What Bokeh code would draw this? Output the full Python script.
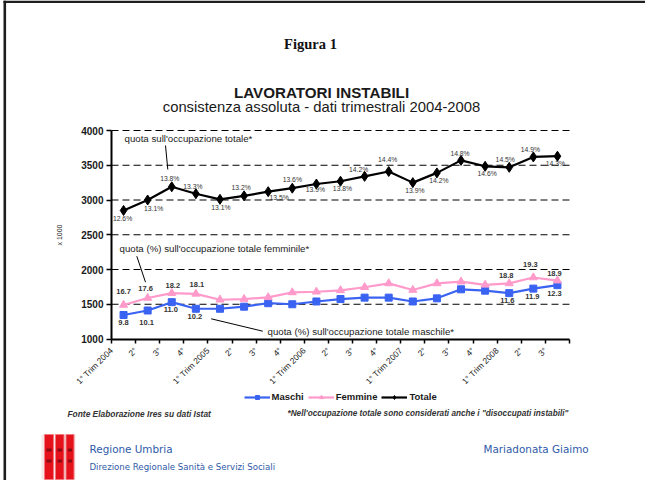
import math
import numpy as np
from bokeh.plotting import figure
from bokeh.models import Range1d, FixedTicker, Legend, LegendItem, ColumnDataSource
from bokeh.core.properties import value
from bokeh.embed import file_html
from bokeh.resources import INLINE

# ---------------- data ----------------
quarters = ["1° Trim 2004", "2°", "3°", "4°",
            "1° Trim 2005", "2°", "3°", "4°",
            "1° Trim 2006", "2°", "3°", "4°",
            "1° Trim 2007", "2°", "3°", "4°",
            "1° Trim 2008", "2°", "3°"]
maschi = [1345, 1410, 1530, 1435, 1435, 1465, 1515, 1500, 1540, 1575,
          1595, 1595, 1540, 1585, 1715, 1695, 1660, 1725, 1775]
femmine = [1490, 1590, 1660, 1650, 1565, 1575, 1600, 1670, 1680, 1700,
           1745, 1800, 1705, 1800, 1825, 1780, 1800, 1885, 1840]
totale = [2850, 3000, 3190, 3090, 3010, 3060, 3120, 3170, 3230, 3270,
          3340, 3410, 3250, 3390, 3570, 3485, 3470, 3620, 3630]
quota_totale = ["12.6%", "13.1%", "13.8%", "13.3%", "13.1%", "13.2%", "13.5%",
                "13.6%", "13.9%", "13.8%", "14.2%", "14.4%", "13.9%", "14.2%",
                "14.8%", "14.6%", "14.5%", "14.9%", "14.3%"]
quota_femmine = ["16.7", "17.6", "18.2", "18.1", "", "", "", "", "", "",
                 "", "", "", "", "", "", "18.8", "19.3", "18.9"]
quota_maschi = ["9.8", "10.1", "11.0", "10.2", "", "", "", "", "", "",
                "", "", "", "", "", "", "11.6", "11.9", "12.3"]
y_ticks = [1000, 1500, 2000, 2500, 3000, 3500, 4000]

# ---------------- styles / label placement (screen px) ----------------
tot_dx = [-1, 6, -2, -3, 1, -3, 11, 0, -1, 2, -6, -1, 2, 2, -1, 2, -4, -3, -2]
tot_dy = [8, 8, -8, -7, 8, -8, 6, -9, 5, 7, -7, -12, 8, 8, -7, 7, -8, -7, 7]
fem_dx = [0, -2, 1, 1] + [0] * 12 + [-3, -3, -3]
fem_dy = [-13, -9, -8, -9] + [0] * 12 + [-8, -13, -7]
mas_dx = [0, -1, -1, -1] + [0] * 12 + [-2, -1, -3]
mas_dy = [7, 12, 7, 8] + [0] * 12 + [7, 8, 8]

BLUE = "#3a63f2"
PINK = "#ff9acb"
SANS = "Liberation Sans"
TXT = "#1a1a1a"
FOOT_BLUE = "#2f5aa8"

# page geometry (page pixels); the figure's top-left sits at about (1, 1)
PG_L, PG_T = 1, 1
W, H = 645, 480
PG_R, PG_B = PG_L + W, PG_T + H
CH_L, CH_R, CH_T, CH_B = 112, 570, 131, 339.5   # chart data area on the page

n = len(quarters)
ymin, ymax = y_ticks[0], y_ticks[-1]
sx = (CH_R - CH_L) / n
sy = (CH_B - CH_T) / (ymax - ymin)
x_range = Range1d(-(CH_L - PG_L) / sx, n + (PG_R - CH_R) / sx)
y_range = Range1d(ymin - (PG_B - CH_B) / sy, ymax + (CH_T - PG_T) / sy)

p = figure(width=W, height=H, x_range=x_range, y_range=y_range,
           output_backend="svg", toolbar_location=None, min_border=0,
           outline_line_color=None)
p.extra_x_ranges = {"px": Range1d(PG_L, PG_R)}
p.extra_y_ranges = {"py": Range1d(PG_B, PG_T)}
PX = dict(x_range_name="px", y_range_name="py")

x = np.arange(n) + 0.5

# page frame lines (top and left)
p.segment(x0=[4, 5.3], y0=[2.2, 1], x1=[PG_R, 5.3], y1=[2.2, PG_B],
          line_color="#1e1e1e", line_width=2.6, **PX)

# grid: dashed lines at each tick above the base
p.xgrid.visible = False
p.ygrid.visible = False
gy = [t for t in y_ticks if t > ymin]
p.segment(x0=[0] * len(gy), x1=[n] * len(gy), y0=gy, y1=gy,
          line_color="black", line_dash="7 4", line_width=1)

# axes fixed at the chart corner
p.yaxis.fixed_location = 0
p.yaxis.bounds = (ymin, ymax)
p.yaxis.ticker = FixedTicker(ticks=y_ticks)
p.yaxis.axis_line_width = 2
p.yaxis.major_tick_line_width = 1.5
p.yaxis.major_tick_in = 0
p.yaxis.major_tick_out = 5
p.yaxis.minor_tick_line_color = None
p.yaxis.major_label_text_font = SANS
p.yaxis.major_label_text_font_style = "bold"
p.yaxis.major_label_text_font_size = "10px"
p.yaxis.major_label_text_color = TXT
p.yaxis.major_label_standoff = 3
p.yaxis.axis_label = "x 1000"
p.yaxis.axis_label_text_font = SANS
p.yaxis.axis_label_text_font_style = "normal"
p.yaxis.axis_label_text_font_size = "7px"
p.yaxis.axis_label_text_color = TXT
p.yaxis.axis_label_standoff = 15

p.xaxis.fixed_location = ymin
p.xaxis.bounds = (0, n)
p.xaxis.ticker = FixedTicker(ticks=list(range(n + 1)))
overrides = {i: q for i, q in enumerate(quarters)}
overrides[n] = ""
p.xaxis.major_label_overrides = overrides
p.xaxis.major_label_orientation = math.pi / 4
p.xaxis.axis_line_width = 2
p.xaxis.major_tick_line_width = 1.5
p.xaxis.major_tick_in = 0
p.xaxis.major_tick_out = 4
p.xaxis.minor_tick_line_color = None
p.xaxis.major_label_text_font = SANS
p.xaxis.major_label_text_font_size = "8.4px"
p.xaxis.major_label_text_color = TXT
p.xaxis.major_label_standoff = 6

# series
lm = p.line(x, maschi, color=BLUE, line_width=2.2)
sm = p.scatter(x, maschi, marker="square", size=7, color=BLUE)
lf = p.line(x, femmine, color=PINK, line_width=2.2)
sf = p.scatter(x, femmine, marker="triangle", size=8, color=PINK)
lt = p.line(x, totale, color="black", line_width=2.2)
st = p.scatter(x, totale, marker="diamond", size=10, color="black")

lab_t = ColumnDataSource(dict(x=x, y=totale, t=quota_totale, dx=tot_dx, dy=tot_dy))
p.text(x="x", y="y", text="t", x_offset="dx", y_offset="dy", source=lab_t,
       text_font=value(SANS), text_font_size="6.8px", text_color="#333333",
       text_align="center", text_baseline="middle")
lab_f = ColumnDataSource(dict(x=x, y=femmine, t=quota_femmine, dx=fem_dx, dy=fem_dy))
p.text(x="x", y="y", text="t", x_offset="dx", y_offset="dy", source=lab_f,
       text_font=value(SANS), text_font_style="bold", text_font_size="7.5px",
       text_color="#333333", text_align="center", text_baseline="middle")
lab_m = ColumnDataSource(dict(x=x, y=maschi, t=quota_maschi, dx=mas_dx, dy=mas_dy))
p.text(x="x", y="y", text="t", x_offset="dx", y_offset="dy", source=lab_m,
       text_font=value(SANS), text_font_style="bold", text_font_size="7.5px",
       text_color="#333333", text_align="center", text_baseline="middle")

# call-out notes (page px)
notes = ["quota sull'occupazione totale*",
         "quota (%) sull'occupazione totale femminile*",
         "quota (%) sull'occupazione totale maschile*"]
p.text(x=[125, 120, 268], y=[138.5, 249, 332], text=notes,
       text_font=value(SANS), text_font_size="9.7px", text_color="#222222",
       text_align="left", text_baseline="middle", **PX)
p.segment(x0=[166, 137.3, 211.7], y0=[146, 256.7, 319.3],
          x1=[168.3, 146, 263.3], y1=[170, 282.7, 331.7],
          line_color="black", line_width=1, **PX)

# legend (location in px from the canvas bottom-left)
legend = Legend(items=[LegendItem(label="Maschi", renderers=[lm, sm]),
                       LegendItem(label="Femmine", renderers=[lf, sf]),
                       LegendItem(label="Totale", renderers=[lt, st])],
                location=(244.5 - PG_L, PG_B - 403), orientation="horizontal",
                glyph_width=26, glyph_height=10, label_height=10, label_standoff=2,
                spacing=4, padding=0, margin=0, border_line_color=None,
                background_fill_alpha=0, label_text_font=SANS,
                label_text_font_style="bold", label_text_font_size="9.5px",
                label_text_color=TXT, label_text_baseline="middle")
p.add_layout(legend)

# ---------------- header ----------------
p.text(x=[311], y=[44], text=["Figura 1"], text_font=value("Liberation Serif"),
       text_font_style="bold", text_font_size="14.5px", text_align="center",
       text_baseline="middle", text_color="#111111", **PX)
p.text(x=[322], y=[93], text=["LAVORATORI INSTABILI"], text_font=value(SANS),
       text_font_style="bold", text_font_size="15.2px", text_align="center",
       text_baseline="middle", text_color=TXT, **PX)
p.text(x=[322], y=[107], text=["consistenza assoluta - dati trimestrali 2004-2008"],
       text_font=value(SANS), text_font_size="14.8px", text_align="center",
       text_baseline="middle", text_color=TXT, **PX)

# ---------------- footer ----------------
p.text(x=[68], y=[414], text=["Fonte Elaborazione Ires su dati Istat"],
       text_font=value(SANS), text_font_style="bold italic", text_font_size="8.4px",
       text_color="#333333", text_align="left", text_baseline="middle", **PX)
p.text(x=[288], y=[414],
       text=["*Nell'occupazione totale sono considerati anche i \"disoccupati instabili\""],
       text_font=value(SANS), text_font_style="bold italic", text_font_size="8.2px",
       text_color="#333333", text_align="left", text_baseline="middle", **PX)
# logo
p.quad(left=[42], right=[76], top=[435], bottom=[480], fill_color="#f8e6e6",
       line_color=None, **PX)
p.quad(left=[45, 56, 66.5], right=[54, 64.5, 74.5], top=[435] * 3, bottom=[480] * 3,
       fill_color="#e5121c", line_color="#f07a80", line_width=1, **PX)
p.quad(left=[47, 58, 68.5], right=[52, 62.5, 72.5], top=[449] * 3, bottom=[452] * 3,
       fill_color="#8c0a12", line_color=None, **PX)
p.quad(left=[47, 58, 68.5], right=[52, 62.5, 72.5], top=[460] * 3, bottom=[463] * 3,
       fill_color="#8c0a12", line_color=None, **PX)
p.text(x=[90, 484], y=[449, 449], text=["Regione Umbria", "Mariadonata Giaimo"],
       text_font=value("DejaVu Sans"), text_font_size="10.4px", text_color=FOOT_BLUE,
       text_align="left", text_baseline="middle", **PX)
p.text(x=[90], y=[467], text=["Direzione Regionale Sanità e Servizi Sociali"],
       text_font=value("DejaVu Sans"), text_font_size="8.6px", text_color=FOOT_BLUE,
       text_align="left", text_baseline="middle", **PX)

open("out.html", "w").write(file_html(p, INLINE))
